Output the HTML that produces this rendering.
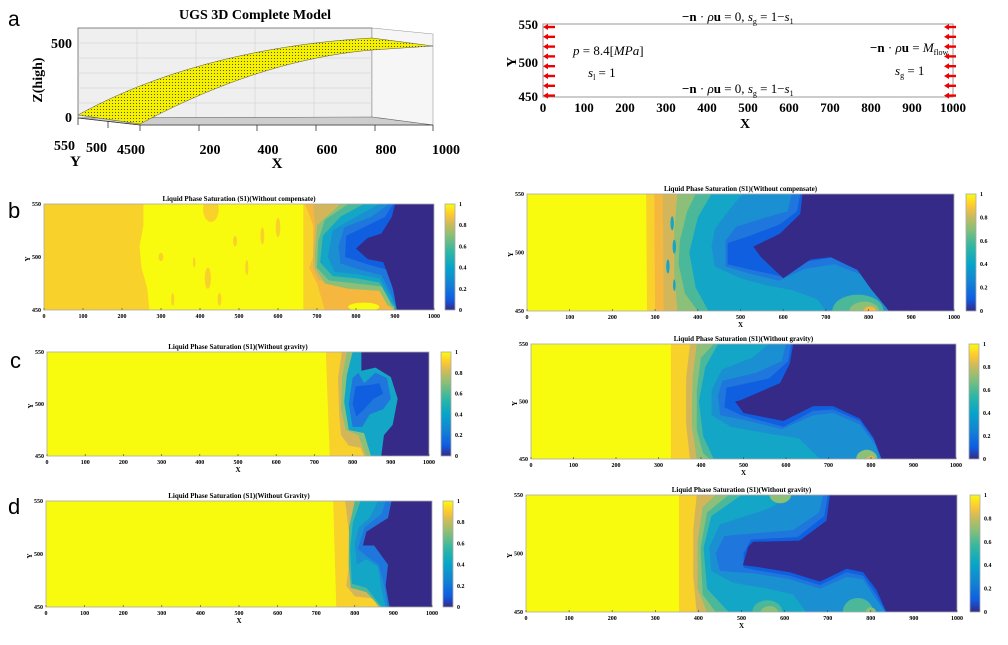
<!DOCTYPE html>
<html><head><meta charset="utf-8"><style>
body{margin:0;background:#fff;}
svg text{font-family:"Liberation Serif",serif;}
</style></head><body>
<svg id="s" width="1008" height="640" xmlns="http://www.w3.org/2000/svg">
<defs>
<linearGradient id="parula" x1="0" y1="1" x2="0" y2="0">
<stop offset="0" stop-color="#352a87"/><stop offset="0.1" stop-color="#0f5ce1"/><stop offset="0.25" stop-color="#1283d4"/><stop offset="0.4" stop-color="#06a4ca"/><stop offset="0.55" stop-color="#2eb7a4"/><stop offset="0.7" stop-color="#87bf77"/><stop offset="0.82" stop-color="#d1bb59"/><stop offset="0.9" stop-color="#fec832"/><stop offset="1" stop-color="#f9fb0e"/>
</linearGradient>
<pattern id="dots" width="3" height="3" patternUnits="userSpaceOnUse"><rect width="3" height="3" fill="#f5f000"/><circle cx="1.5" cy="1.5" r="0.55" fill="#333"/></pattern>
<pattern id="fdots" width="2" height="2" patternUnits="userSpaceOnUse"><rect width="2" height="2" fill="#ddd"/><circle cx="1" cy="1" r="0.5" fill="#888"/></pattern>
</defs>
<text x="8" y="26" style="font-family:'Liberation Sans',sans-serif" font-size="21">a</text>
<text x="8" y="218" style="font-family:'Liberation Sans',sans-serif" font-size="22">b</text>
<text x="10" y="368" style="font-family:'Liberation Sans',sans-serif" font-size="22">c</text>
<text x="8" y="514" style="font-family:'Liberation Sans',sans-serif" font-size="22">d</text>

<!-- 3D plot -->
<text x="255" y="19" font-size="14" font-weight="bold" text-anchor="middle">UGS 3D Complete Model</text>
<rect x="78" y="28" width="294" height="90" fill="#efefef" stroke="#666" stroke-width="0.8"/>
<polygon points="372,28 433,34 433,125 372,117" fill="#f6f6f6" stroke="#999" stroke-width="0.6"/>
<g stroke="#ccc" stroke-width="0.5">
<line x1="137" y1="28" x2="137" y2="118"/><line x1="196" y1="28" x2="196" y2="118"/><line x1="255" y1="28" x2="255" y2="118"/><line x1="314" y1="28" x2="314" y2="118"/>
<line x1="78" y1="43" x2="372" y2="43"/><line x1="78" y1="58" x2="372" y2="58"/><line x1="78" y1="73" x2="372" y2="73"/><line x1="78" y1="88" x2="372" y2="88"/><line x1="78" y1="103" x2="372" y2="103"/>
</g>
<polygon points="78,118 372,117 433,125 140,125" fill="url(#fdots)" stroke="#666" stroke-width="0.6"/>
<path d="M78,115 C150,75 250,45 372,38 L433,46 L372,50 C280,58 200,92 140,124 Z" fill="url(#dots)" stroke="#555" stroke-width="0.5"/>
<g stroke="#333" stroke-width="0.8">
<line x1="78" y1="118" x2="140" y2="125"/><line x1="140" y1="125" x2="433" y2="125"/>
<line x1="140" y1="125" x2="140" y2="131"/><line x1="199" y1="125" x2="199" y2="131"/><line x1="257" y1="125" x2="257" y2="131"/><line x1="316" y1="125" x2="316" y2="131"/><line x1="375" y1="125" x2="375" y2="131"/><line x1="433" y1="125" x2="433" y2="131"/>
<line x1="78" y1="118" x2="78" y2="125"/><line x1="108" y1="121" x2="108" y2="128"/>
</g>
<g font-size="14" font-weight="bold">
<text x="72" y="48" text-anchor="end">500</text><text x="72" y="122" text-anchor="end">0</text>
<text x="54" y="150">550</text><text x="86" y="152">500</text><text x="117" y="154">4500</text>
<text x="210" y="154" text-anchor="middle">200</text><text x="268" y="154" text-anchor="middle">400</text><text x="327" y="154" text-anchor="middle">600</text><text x="386" y="154" text-anchor="middle">800</text><text x="446" y="154" text-anchor="middle">1000</text>
<text x="70" y="166" font-size="15">Y</text><text x="277" y="168" font-size="15" text-anchor="middle">X</text>
<text transform="translate(42,80) rotate(-90)" text-anchor="middle" font-size="14">Z(high)</text>
</g>

<!-- top right domain -->
<rect x="543" y="24" width="410" height="73" fill="#fff" stroke="#999" stroke-width="1"/>
<g id="arrows"></g>
<g font-size="13" font-weight="bold">
<text x="538" y="29" text-anchor="end">550</text><text x="538" y="67" text-anchor="end">500</text><text x="538" y="101" text-anchor="end">450</text>
<text transform="translate(516,62) rotate(-90)" text-anchor="middle" font-size="14">Y</text>
<text x="745" y="128" text-anchor="middle" font-size="14">X</text>
</g>
<g id="trx" font-size="13" font-weight="bold"></g>
<g font-size="13">
<text x="682" y="21"><tspan font-weight="bold">−n</tspan> · <tspan font-style="italic">ρ</tspan><tspan font-weight="bold">u</tspan> = 0,  <tspan font-style="italic">s</tspan><tspan font-size="8" dy="3">g</tspan><tspan dy="-3"> = 1−</tspan><tspan font-style="italic">s</tspan><tspan font-size="8" dy="3">1</tspan></text>
<text x="682" y="93"><tspan font-weight="bold">−n</tspan> · <tspan font-style="italic">ρ</tspan><tspan font-weight="bold">u</tspan> = 0,  <tspan font-style="italic">s</tspan><tspan font-size="8" dy="3">g</tspan><tspan dy="-3"> = 1−</tspan><tspan font-style="italic">s</tspan><tspan font-size="8" dy="3">1</tspan></text>
<text x="573" y="55"><tspan font-style="italic">p</tspan> = 8.4[<tspan font-style="italic">MPa</tspan>]</text>
<text x="588" y="77"><tspan font-style="italic">s</tspan><tspan font-size="8" dy="3">l</tspan><tspan dy="-3"> = 1</tspan></text>
<text x="870" y="52"><tspan font-weight="bold">−n</tspan> · <tspan font-style="italic">ρ</tspan><tspan font-weight="bold">u</tspan> = <tspan font-style="italic">M</tspan><tspan font-size="8" dy="3">flow</tspan></text>
<text x="895" y="75"><tspan font-style="italic">s</tspan><tspan font-size="8" dy="3">g</tspan><tspan dy="-3"> = 1</tspan></text>
</g>
<g id="panels"></g>
</svg>
<script>
var NS="http://www.w3.org/2000/svg";
function el(t,a,p,txt){var e=document.createElementNS(NS,t);for(var k in a)e.setAttribute(k,a[k]);if(txt!=null)e.textContent=txt;(p||document.getElementById('s')).appendChild(e);return e;}
var ag=document.getElementById('arrows');
for(var i=0;i<8;i++){var y=27+i*9.8;
 [[543],[944]].forEach(function(o){var x=o[0];
 el('rect',{x:x+4,y:y-1.2,width:8,height:2.4,fill:'#e00'},ag);
 el('polygon',{points:(x)+','+y+' '+(x+5)+','+(y-3)+' '+(x+5)+','+(y+3),fill:'#e00'},ag);});}
var trx=document.getElementById('trx');
for(var i=0;i<=10;i++){el('text',{x:543+41*i,y:112,'text-anchor':'middle'},trx,String(i*100));}
var C={y:'#f9fb0e',o9:'#f8d12a',o8:'#f5b73e',c7:'#d4b65a',c6:'#8cbf78',c5:'#4bb89a',c4:'#14a6c6',c3:'#1a8fd2',c2:'#1f76dc',c1:'#0f5fe0',d:'#352a87'};
var panels=[
{x:44,y:204,w:390,h:106,cb:445,title:'Liquid Phase Saturation (S1)(Without compensate)',xl:false,base:'o9',s:[
['y','255,0 665,0 665,100 270,100 265,80 250,60 245,40 255,20'],
['e','o9',300,50,6,4],['e','o9',420,70,8,10],['e','o9',428,5,20,12],['e','o9',600,22,6,9],['e','o9',490,35,5,5],['e','o9',560,30,5,8],['e','o9',330,90,4,6],['e','o9',450,90,5,6],['e','o9',520,60,4,7],['e','o9',385,55,3,5],
['o8','670,0 690,20 690,50 680,60 700,75 720,100 1000,100 1000,0'],
['c7','690,0 695,20 690,45 690,60 705,72 1000,72 1000,0'],
['c6','760,0 700,20 695,45 695,60 720,75 780,80 860,82 880,95 900,100 1000,100 1000,0'],
['c5','780,0 720,15 703,35 700,60 730,72 800,75 870,78 890,95 905,100 1000,100 1000,0'],
['c4','820,0 760,12 715,30 708,55 740,68 800,70 860,74 888,92 905,100 1000,100 1000,0'],
['c3','860,0 800,12 740,25 728,50 745,64 800,66 860,70 890,88 905,100 1000,100 1000,0'],
['c2','885,0 840,12 770,22 755,40 760,56 810,62 865,67 892,86 905,100 1000,100 1000,0'],
['c1','895,0 875,12 820,22 775,30 772,50 830,57 880,62 897,84 905,100 1000,100 1000,0'],
['d','900,0 892,12 865,28 830,32 800,42 830,52 870,55 895,80 905,100 1000,100 1000,0'],
['e','y',820,97,40,4]
]},
{x:527,y:194,w:427,h:117,cb:966,title:'Liquid Phase Saturation (S1)(Without compensate)',xl:true,base:'y',s:[
['o9','279,0 1000,0 1000,100 281,100'],
['o8','298,0 1000,0 1000,100 300,100'],
['c7','318,0 1000,0 1000,100 320,100'],
['c6','352,0 345,30 345,70 352,100 1000,100 1000,0'],
['c5','395,0 375,15 358,40 355,60 370,85 400,100 1000,100 1000,0'],
['c4','432,0 400,20 380,50 395,80 425,100 1000,100 1000,0'],
['c3','505,0 470,15 440,30 432,45 440,62 500,72 560,78 620,82 680,90 700,100 1000,100 1000,0'],
['c2','620,0 610,15 560,20 490,28 465,40 465,62 520,68 590,74 650,64 720,60 790,70 830,86 845,100 1000,100 1000,0'],
['c1','640,0 632,15 592,26 520,36 470,42 470,60 515,64 592,70 650,58 720,54 790,62 832,82 847,100 1000,100 1000,0'],
['d','645,0 640,17 592,34 530,45 548,54 600,72 664,56 711,54 774,65 805,81 848,100 1000,100 1000,0'],
['e','c5',775,100,60,14],['e','c6',790,100,35,8],['e','o8',803,100,15,4],
['e','c4',340,25,4,6],['e','c4',345,45,4,6],['e','c4',330,62,4,6],['e','c4',345,78,3,5]
]},
{x:47,y:352,w:382,h:104,cb:441,title:'Liquid Phase Saturation (S1)(Without gravity)',xl:true,base:'y',s:[
['o9','730,0 1000,0 1000,100 740,100 735,50'],
['c7','772,0 762,25 765,60 770,80 790,90 820,92 830,100 1000,100 1000,0'],
['c6','785,0 772,25 770,55 782,75 815,80 835,100 1000,100 1000,0'],
['c4','800,0 785,22 778,48 790,75 830,78 848,100 1000,100 1000,0'],
['c2','800,25 790,50 800,72 825,72 845,60 880,55 900,45 890,25 860,20 830,30 815,20'],
['c1','808,33 800,50 810,62 830,55 855,45 880,40 870,30 840,32'],
['d','823,0 823,18 860,15 900,24 918,45 905,70 882,80 875,100 1000,100 1000,0']
]},
{x:531,y:344,w:425,h:115,cb:969,title:'Liquid Phase Saturation (S1)(Without gravity)',xl:true,base:'y',s:[
['o9','329,0 1000,0 1000,100 329,100'],
['c7','374,0 365,30 365,70 374,100 1000,100 1000,0'],
['c6','390,0 380,30 378,70 390,100 1000,100 1000,0'],
['c5','430,0 400,12 390,40 390,75 405,95 420,100 1000,100 1000,0'],
['c4','440,0 410,20 395,50 405,80 430,100 1000,100 1000,0'],
['c3','560,0 520,12 450,22 425,40 425,62 470,72 560,78 630,82 680,100 1000,100 1000,0'],
['c2','600,0 590,15 530,25 450,32 440,45 445,62 500,66 590,74 664,62 711,60 774,70 810,88 822,100 1000,100 1000,0'],
['c1','612,0 605,15 560,30 460,38 455,55 495,62 594,72 664,58 711,57 774,67 808,84 825,100 1000,100 1000,0'],
['d','617,0 609,17 586,34 492,49 480,50 500,60 594,67 664,54 711,54 774,65 805,81 825,100 1000,100 1000,0'],
['e','c6',790,100,25,8],['e','c7',800,100,10,3]
]},
{x:46,y:501,w:386,h:106,cb:443,title:'Liquid Phase Saturation (S1)(Without Gravity)',xl:true,base:'y',s:[
['o9','744,0 1000,0 1000,100 752,100'],
['c7','775,0 785,30 785,60 778,80 800,90 848,92 860,100 1000,100 1000,0'],
['c5','800,0 785,25 784,60 790,82 830,86 865,100 1000,100 1000,0'],
['c4','815,0 795,20 788,45 792,78 830,82 870,100 1000,100 1000,0'],
['c3','860,0 840,15 810,25 800,40 805,60 830,55 860,62 870,85 880,100 1000,100 1000,0'],
['c2','880,0 870,12 825,25 808,45 830,52 862,60 878,82 885,100 1000,100 1000,0'],
['d','895,0 886,16 830,29 821,42 850,42 886,60 880,80 890,100 1000,100 1000,0']
]},
{x:526,y:495,w:431,h:117,cb:970,title:'Liquid Phase Saturation (S1)(Without gravity)',xl:true,base:'y',s:[
['o9','355,0 1000,0 1000,100 355,100'],
['c7','396,0 388,30 388,70 396,100 1000,100 1000,0'],
['c6','440,0 410,10 398,40 398,80 420,100 1000,100 1000,0'],
['c5','470,0 420,15 405,45 410,85 440,100 1000,100 1000,0'],
['c4','500,0 430,18 412,45 420,80 470,100 1000,100 1000,0'],
['c3','620,0 560,12 450,25 425,45 430,65 480,75 560,80 620,85 650,100 1000,100 1000,0'],
['c2','690,0 680,15 620,30 460,35 440,50 450,65 530,67 612,72 682,80 744,70 782,72 810,88 833,100 1000,100 1000,0'],
['c1','700,0 692,18 630,36 522,38 505,50 505,62 530,64 612,69 682,77 744,66 782,69 812,85 835,100 1000,100 1000,0'],
['d','705,0 697,22 635,39 527,40 516,44 503,60 528,61 612,66 682,74 744,63 782,66 813,81 836,100 1000,100 1000,0'],
['e','c6',590,0,25,7],['e','c5',560,100,35,10],['e','c6',565,100,20,5],['e','c5',770,100,35,12],['e','c6',800,100,12,4]
]}
];
var pg=document.getElementById('panels');
panels.forEach(function(p){
 var sv=el('svg',{x:p.x,y:p.y,width:p.w,height:p.h,viewBox:'0 0 1000 100',preserveAspectRatio:'none'},pg);
 el('rect',{x:0,y:0,width:1000,height:100,fill:C[p.base]},sv);
 p.s.forEach(function(s){
  if(s[0]=='e')el('ellipse',{cx:s[2],cy:s[3],rx:s[4],ry:s[5],fill:C[s[1]]},sv);
  else el('polygon',{points:s[1],fill:C[s[0]]},sv);
 });
 el('rect',{x:p.x,y:p.y,width:p.w,height:p.h,fill:'none',stroke:'#aaa','stroke-width':0.8},pg);
 el('text',{x:p.x+p.w/2,y:p.y-3,'text-anchor':'middle','font-size':7,'font-weight':'bold'},pg,p.title);
 for(var i=0;i<=10;i++){var xx=p.x+p.w*i/10;
  el('line',{x1:xx,y1:p.y+p.h,x2:xx,y2:p.y+p.h-2,stroke:'#444','stroke-width':0.6},pg);
  el('text',{x:xx,y:p.y+p.h+8,'text-anchor':'middle','font-size':6,'font-weight':'bold'},pg,String(i*100));}
 [['550',0],['500',0.5],['450',1]].forEach(function(t){
  el('text',{x:p.x-3,y:p.y+p.h*t[1]+2,'text-anchor':'end','font-size':6,'font-weight':'bold'},pg,t[0]);});
 el('text',{x:p.x-18,y:p.y+p.h/2+2,'text-anchor':'middle','font-size':7,'font-weight':'bold',transform:'rotate(-90 '+(p.x-16)+' '+(p.y+p.h/2)+')'},pg,'Y');
 if(p.xl)el('text',{x:p.x+p.w/2,y:p.y+p.h+16,'text-anchor':'middle','font-size':7,'font-weight':'bold'},pg,'X');
 el('rect',{x:p.cb,y:p.y,width:10,height:p.h,fill:'url(#parula)',stroke:'#aaa','stroke-width':0.8},pg);
 for(var j=0;j<=5;j++){var yy=p.y+p.h-p.h*j/5;
  el('text',{x:p.cb+14,y:yy+2,'font-size':6,'font-weight':'bold'},pg,j==0?'0':(j==5?'1':(j*0.2).toFixed(1)));}
});
</script>
</body></html>
